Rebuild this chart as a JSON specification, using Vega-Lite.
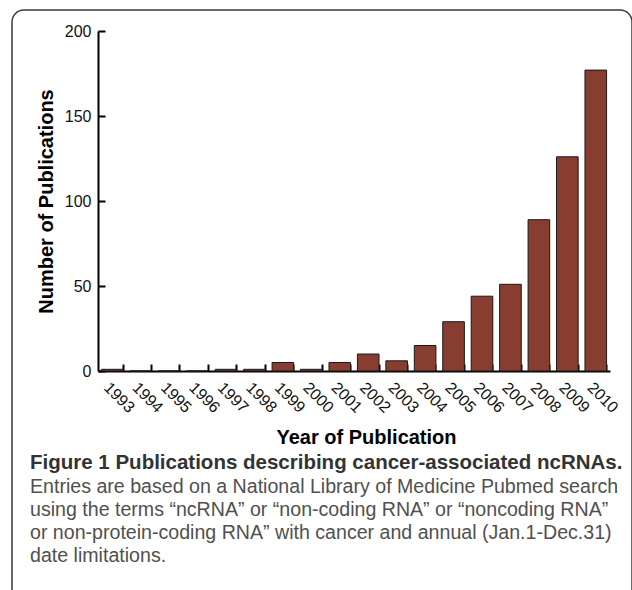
{
  "$schema": "https://vega.github.io/schema/vega-lite/v6.json",
  "width": 620,
  "height": 620,
  "autosize": {"type": "none"},
  "padding": {"left": 12, "top": 10, "right": 0, "bottom": 0},
  "background": "white",
  "data": {"values": [
    {"year": "1993", "count": 1},
    {"year": "1994", "count": 0},
    {"year": "1995", "count": 0},
    {"year": "1996", "count": 0},
    {"year": "1997", "count": 1},
    {"year": "1998", "count": 1},
    {"year": "1999", "count": 5},
    {"year": "2000", "count": 1},
    {"year": "2001", "count": 5},
    {"year": "2002", "count": 10},
    {"year": "2003", "count": 6},
    {"year": "2004", "count": 15},
    {"year": "2005", "count": 29},
    {"year": "2006", "count": 44},
    {"year": "2007", "count": 51},
    {"year": "2008", "count": 89},
    {"year": "2009", "count": 126},
    {"year": "2010", "count": 177}
  ]},
  "title": {
    "text": "Figure 1 Publications describing cancer-associated ncRNAs.",
    "subtitle": [
      "Entries are based on a National Library of Medicine Pubmed search",
      "using the terms “ncRNA” or “non-coding RNA” or “noncoding RNA”",
      "or non-protein-coding RNA” with cancer and annual (Jan.1-Dec.31)",
      "date limitations."
    ],
    "orient": "bottom",
    "anchor": "start",
    "frame": "group",
    "dx": 18,
    "offset": -177,
    "font": "Liberation Sans",
    "fontSize": 20.5,
    "fontWeight": "bold",
    "color": "#333333",
    "subtitleFont": "Liberation Sans",
    "subtitleFontSize": 19.6,
    "subtitleColor": "#505050",
    "subtitleLineHeight": 23.3,
    "subtitlePadding": 4
  },
  "mark": {"type": "bar", "color": "#873d30", "stroke": "#1a1a1a", "strokeWidth": 1},
  "encoding": {
    "x": {
      "field": "year", "type": "nominal", "sort": null,
      "scale": {"range": [86, 598], "paddingInner": 0.24, "paddingOuter": 0.12},
      "axis": {
        "offset": -259,
        "title": "Year of Publication",
        "titleFont": "Liberation Sans", "titleFontSize": 20, "titleFontWeight": "bold", "titleColor": "#000",
        "titleX": 354, "titleY": 56, "titleBaseline": "top", "titleAlign": "center",
        "labelAngle": 45, "labelAlign": "left", "labelBaseline": "top",
        "labelFont": "Liberation Sans", "labelFontSize": 16, "labelColor": "#111",
        "labelPadding": 15,
        "bandPosition": 1,
        "tickSize": -7, "tickWidth": 2, "tickColor": "#000",
        "domainWidth": 2, "domainColor": "#000"
      }
    },
    "y": {
      "field": "count", "type": "quantitative",
      "scale": {"domain": [0, 200], "nice": false, "range": [361, 21]},
      "axis": {
        "offset": -86,
        "title": "Number of Publications",
        "titleFont": "Liberation Sans", "titleFontSize": 20, "titleFontWeight": "bold", "titleColor": "#000",
        "titlePadding": 8,
        "values": [0, 50, 100, 150, 200],
        "labelFont": "Liberation Sans", "labelFontSize": 16, "labelColor": "#111",
        "labelPadding": 14,
        "tickSize": -7, "tickWidth": 2, "tickColor": "#000",
        "domainWidth": 2, "domainColor": "#000",
        "grid": false
      }
    }
  },
  "config": {"view": {"stroke": "#3a3a3a", "strokeWidth": 1.5, "cornerRadius": 12}}
}
